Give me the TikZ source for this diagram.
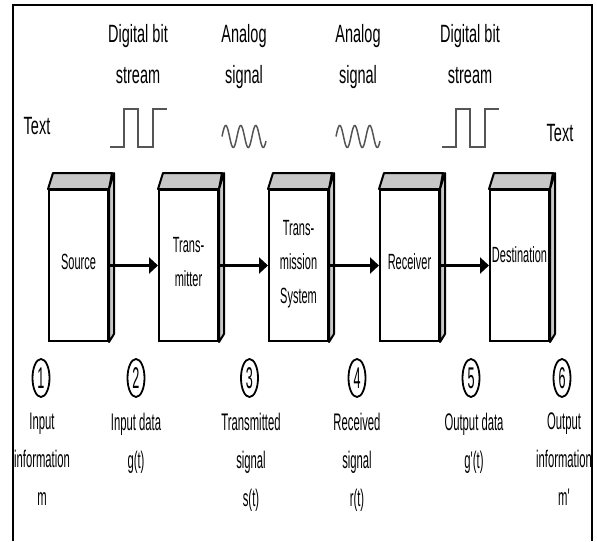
\documentclass[tikz,border=0pt]{standalone}
\usepackage{fontspec}
\setmainfont{Liberation Sans}
\newfontfamily\headfont{Liberation Sans}[FakeStretch=0.58]
\newfontfamily\boxfont{Liberation Sans}[FakeStretch=0.5]
\newfontfamily\labfont{Liberation Sans}[FakeStretch=0.47]
\newfontfamily\numfont{Liberation Sans}[FakeStretch=0.42]
\usepackage{xcolor}
\usetikzlibrary{arrows.meta,shapes.geometric}

\definecolor{facegray}{RGB}{200,200,200}
\definecolor{wavegray}{RGB}{85,85,85}

\tikzset{
  block/.style={draw,line width=2pt,fill=white,minimum width=59pt,minimum height=151pt,
    inner sep=0pt,align=center,text depth=8pt,font={\boxfont\fontsize{22}{34}\selectfont}},
  face/.style={draw=black,fill=facegray,line width=2pt,line join=round},
  flow/.style={line width=2.5pt,-{Triangle[length=9pt,width=16pt]}},
  head/.style={inner sep=0pt,align=center,font={\headfont\fontsize{25}{41}\selectfont}},
  lab/.style={inner sep=0pt,align=center,font={\labfont\fontsize{24}{38}\selectfont}},
  num/.style={draw,ellipse,line width=1.8pt,minimum width=17pt,minimum height=38pt,
    inner sep=0pt,font={\numfont\fontsize{30}{30}\selectfont}},
  wave/.style={color=wavegray,line width=1.5pt}
}

\begin{document}
\begin{tikzpicture}[x=1pt,y=1pt,yscale=-1,xscale=1]
\useasboundingbox (0,0) rectangle (597,541);

%Shape: Frame
\draw [line width=2.5pt]  (13,541) -- (13,5) -- (592,5) -- (592,541) ;

% Text Node
\node [head,anchor=north] (hd1) at (138,24) {Digital bit\\stream};
% Text Node
\node [head,anchor=north] (hd2) at (244,24) {Analog\\signal};
% Text Node
\node [head,anchor=north] (hd3) at (358,24) {Analog\\signal};
% Text Node
\node [head,anchor=north] (hd4) at (470,24) {Digital bit\\stream};
% Text Node
\node [head,anchor=base] (txtl) at (37,134) {Text};
% Text Node
\node [head,anchor=base] (txtr) at (560,141) {Text};

%Shape: Square waves
\draw [wave]  (110,147) -- (124,147) -- (124,109) -- (138,109) -- (138,147) -- (153,147) -- (153,109) -- (167,109) ;
\draw [wave]  (442,147) -- (456,147) -- (456,109) -- (470,109) -- (470,147) -- (485,147) -- (485,109) -- (499,109) ;
%Shape: Sine waves
\draw [wave,domain=0:44,samples=120]  plot ({222+\x},{136.5-11*sin(24*\x)}) ;
\draw [wave,domain=0:44,samples=120]  plot ({336+\x},{136.5-11*sin(24*\x)}) ;

%Shape: Blocks
\node [block] (src) at (78.5,265.5) {Source};
\node [block] (tx) at (188.5,265.5) {Trans-\\mitter};
\node [block] (ch) at (298.5,265.5) {Trans-\\mission\\System};
\node [block] (rx) at (409.5,265.5) {Receiver};
\node [block,text depth=21pt] (dst) at (519.5,265.5) {Destination};
\foreach \b in {src,tx,ch,rx,dst}{
  \filldraw [face] (\b.north west) -- ++(5,-16) -- ++(59,0) -- (\b.north east) -- cycle ;
  \filldraw [face] (\b.north east) -- ++(5,-16) -- ++(0,161) -- (\b.south east) -- cycle ;
}

%Straight Lines
\draw [flow]  (src.east) -- (tx.west) ;
\draw [flow]  (tx.east) -- (ch.west) ;
\draw [flow]  (ch.east) -- (rx.west) ;
\draw [flow]  (rx.east) -- (dst.west) ;

%Shape: Circled numbers
\node [num] (n1) at (41,378) {1};
\node [num] (n2) at (136,378) {2};
\node [num] (n3) at (249.5,378) {3};
\node [num] (n4) at (357,378) {4};
\node [num] (n5) at (471,378) {5};
\node [num] (n6) at (562,378) {6};

% Text Node
\node [lab,anchor=north] (lb1) at (42,413) {Input\\information\\m};
% Text Node
\node [lab,anchor=north] (lb2) at (136,413) {Input data\\g(t)};
% Text Node
\node [lab,anchor=north] (lb3) at (251,413) {Transmitted\\signal\\s(t)};
% Text Node
\node [lab,anchor=north] (lb4) at (357,413) {Received\\signal\\r(t)};
% Text Node
\node [lab,anchor=north] (lb5) at (474,413) {Output data\\g'(t)};
% Text Node
\node [lab,anchor=north] (lb6) at (564,413) {Output\\information\\m'};

\end{tikzpicture}
\end{document}
